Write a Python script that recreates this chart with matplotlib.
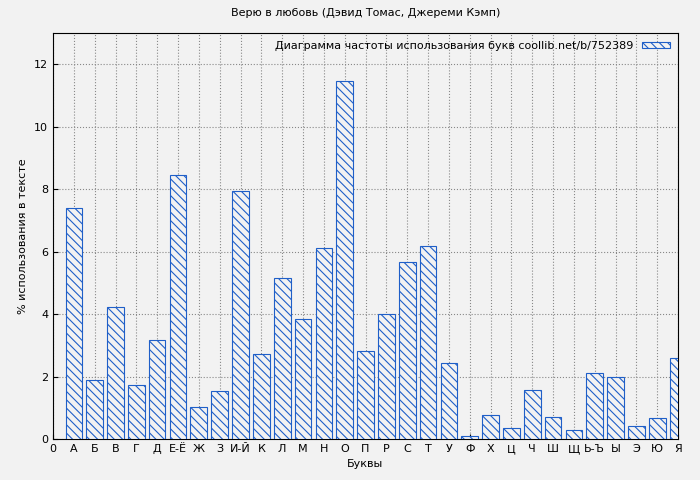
import matplotlib
matplotlib.use("Agg")
import matplotlib.pyplot as plt

letters = ["А","Б","В","Г","Д","Е-Ё","Ж","З","И-Й","К","Л","М","Н","О","П","Р","С","Т","У","Ф","Х","Ц","Ч","Ш","Щ","Ь-Ъ","Ы","Э","Ю","Я"]
values = [7.39,1.89,4.22,1.73,3.17,8.45,1.02,1.54,7.94,2.72,5.15,3.84,6.11,11.46,2.82,4.0,5.66,6.18,2.43,0.1,0.77,0.35,1.57,0.7,0.29,2.11,1.98,0.42,0.67,2.59]

plt.rcParams['hatch.color'] = '#1f5fc8'
plt.rcParams['hatch.linewidth'] = 0.8
fig = plt.figure(figsize=(7, 4.8), dpi=100, facecolor='#f2f2f2')
ax = fig.add_axes([53/700, 1-439/480, 625/700, 406/480], facecolor='#f2f2f2')
x = list(range(1, len(letters)+1))
ax.bar(x, values, width=0.8, facecolor='#f2f2f2', edgecolor='#1f5fc8', hatch='\\\\\\\\', linewidth=0.8,
       label='Диаграмма частоты использования букв coollib.net/b/752389', zorder=3)
ax.set_xlim(0, 30)
ax.set_ylim(0, 13)
ax.set_xticks([0]+x)
ax.set_xticklabels(["0"]+letters, fontsize=8)
ax.set_yticks([0,2,4,6,8,10,12])
ax.tick_params(labelsize=8, direction='in')
ax.grid(True, linestyle=':', color='#888888', linewidth=0.8, zorder=0)
ax.set_xlabel('Буквы', fontsize=8)
ax.set_ylabel('% использования в тексте', fontsize=8)
ax.set_title('Верю в любовь (Дэвид Томас, Джереми Кэмп)', fontsize=8, pad=12)
ax.legend(loc='upper right', fontsize=8, frameon=False, markerfirst=False, handlelength=2.5, handleheight=0.5,
          borderaxespad=0.3)
fig.savefig('out.png', dpi=100, facecolor='#f2f2f2')
